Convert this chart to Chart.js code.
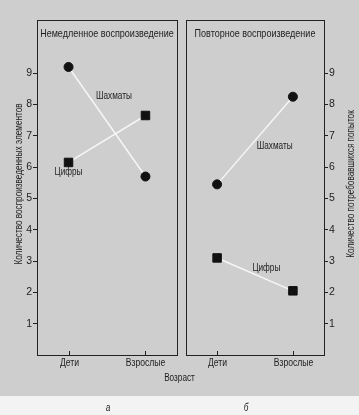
<!DOCTYPE html>
<html>
<head>
<meta charset="utf-8">
<script src="https://cdn.jsdelivr.net/npm/chart.js@4"></script>
<style>
  body { margin: 0; width: 359px; height: 415px; position: relative; overflow: hidden; background: #f3f3f3;
         font-family: 'Liberation Sans', Arial, sans-serif; color: #1e1e1e; }
  #bg { position: absolute; left: 0; top: 0; width: 359px; height: 396px; background: #cecece; }
  canvas { position: absolute; top: 0; }
  .txt { position: absolute; font-size: 10px; text-align: center; transform: scaleX(0.82); }
</style>
</head>
<body>
<div id="bg"></div>
<canvas id="leftCanvas" width="184" height="375" style="left:0"></canvas>
<canvas id="rightCanvas" width="180" height="375" style="left:179px"></canvas>
<div class="txt" style="left:0; width:359px; top:372px;">Возраст</div>
<div class="txt" style="left:98px; width:20px; top:402px; font-style:italic;">а</div>
<div class="txt" style="left:236px; width:20px; top:402px; font-style:italic;">б</div>
<script>
// данные
const ages = ["Дети", "Взрослые"];
const chessImmediate = [9.2, 5.7];
const digitsImmediate = [6.15, 7.65];
const chessRepeat = [5.45, 8.25];
const digitsRepeat = [3.1, 2.05];
const yTicks = [1, 2, 3, 4, 5, 6, 7, 8, 9];

const fontFamily = "'Liberation Sans', Arial, sans-serif";
const ink = "#1e1e1e";
Chart.defaults.font.family = fontFamily;
Chart.defaults.color = ink;

// подписи серий (в единицах данных)
const labelsLeft = [{ text: "Шахматы", x: 0.59, y: 8.27 }, { text: "Цифры", x: 0.0, y: 5.85 }];
const labelsRight = [{ text: "Шахматы", x: 0.76, y: 6.68 }, { text: "Цифры", x: 0.65, y: 2.78 }];

function toPoints(values) {
    return values.map((v, i) => ({ x: i, y: v }));
}

// узкий шрифт: Arial, сжатый по горизонтали
function narrowText(ctx, text, x, y, size, rot) {
    ctx.save();
    ctx.translate(x, y);
    if (rot) ctx.rotate(rot);
    ctx.scale(0.82, 1);
    ctx.font = size + "px " + fontFamily;
    ctx.fillStyle = ink;
    ctx.textAlign = "center";
    ctx.textBaseline = "middle";
    ctx.fillText(text, 0, 0);
    ctx.restore();
}

const framePlugin = {
    id: "frame",
    afterDraw(chart) {
        const ctx = chart.ctx;
        const a = chart.chartArea;
        const opts = chart.options.plugins.frame;
        const xs = chart.scales.x;
        const ys = chart.scales.y;
        ctx.save();
        ctx.strokeStyle = "#222";
        ctx.lineWidth = 1;
        ctx.strokeRect(Math.round(a.left) + 0.5, Math.round(a.top) + 0.5,
            Math.round(a.right - a.left), Math.round(a.bottom - a.top));
        // засечки по оси x внутрь и подписи
        ages.forEach((c, i) => {
            const px = Math.round(xs.getPixelForValue(i)) + 0.5;
            ctx.beginPath();
            ctx.moveTo(px, a.bottom);
            ctx.lineTo(px, a.bottom - 4);
            ctx.stroke();
            narrowText(ctx, c, px, a.bottom + 8, 10.5);
        });
        ctx.restore();
        narrowText(ctx, opts.title, (a.left + a.right) / 2, a.top + 14, 11);
        opts.labels.forEach(l => {
            narrowText(ctx, l.text, xs.getPixelForValue(l.x), ys.getPixelForValue(l.y), 10);
        });
        narrowText(ctx, opts.sideTitle, opts.sideX, 184, 10, -Math.PI / 2);
    }
};

function makePanel(canvas, chess, digits, side, title, labels, sideTitle) {
    return new Chart(canvas, {
        type: "line",
        data: {
            datasets: [{
                label: "Шахматы",
                data: toPoints(chess),
                borderColor: "#f6f6f6",
                borderWidth: 1.5,
                pointStyle: "circle",
                pointRadius: 4.5,
                pointBackgroundColor: "#111",
                pointBorderColor: "#111",
                pointBorderWidth: 1
            }, {
                label: "Цифры",
                data: toPoints(digits),
                borderColor: "#f6f6f6",
                borderWidth: 1.5,
                pointStyle: "rect",
                pointRadius: 6,
                pointBackgroundColor: "#111",
                pointBorderColor: "#111",
                pointBorderWidth: 1
            }]
        },
        options: {
            responsive: false,
            animation: false,
            layout: { padding: side === "left" ? { top: 20, right: 3, left: 0, bottom: 0 } : { top: 20, right: 0, left: 2, bottom: 0 } },
            plugins: {
                legend: { display: false },
                tooltip: { enabled: false },
                frame: { title: title, labels: labels, sideTitle: sideTitle, sideX: side === "left" ? 19.5 : 172 }
            },
            scales: {
                x: {
                    type: "linear",
                    min: -0.41,
                    max: 1.41,
                    afterBuildTicks: s => { s.ticks = ages.map((c, i) => ({ value: i })); },
                    afterFit: s => { s.height = 20; },
                    grid: { display: false, drawTicks: false },
                    border: { display: false },
                    ticks: { display: false }
                },
                y: {
                    position: side,
                    min: 0,
                    max: 10.7,
                    afterBuildTicks: s => { s.ticks = yTicks.map(v => ({ value: v })); },
                    afterFit: s => { s.width = side === "left" ? 37 : 35; },
                    grid: { drawOnChartArea: false, drawTicks: true, tickLength: 4, color: "#222" },
                    border: { display: false },
                    ticks: { padding: 1, font: { size: 10.5 } }
                }
            }
        },
        plugins: [framePlugin]
    });
}

makePanel(document.getElementById("leftCanvas"), chessImmediate, digitsImmediate, "left",
    "Немедленное воспроизведение", labelsLeft, "Количество воспроизведенных элементов");
makePanel(document.getElementById("rightCanvas"), chessRepeat, digitsRepeat, "right",
    "Повторное воспроизведение", labelsRight, "Количество потребовавшихся попыток");
</script>
</body>
</html>
